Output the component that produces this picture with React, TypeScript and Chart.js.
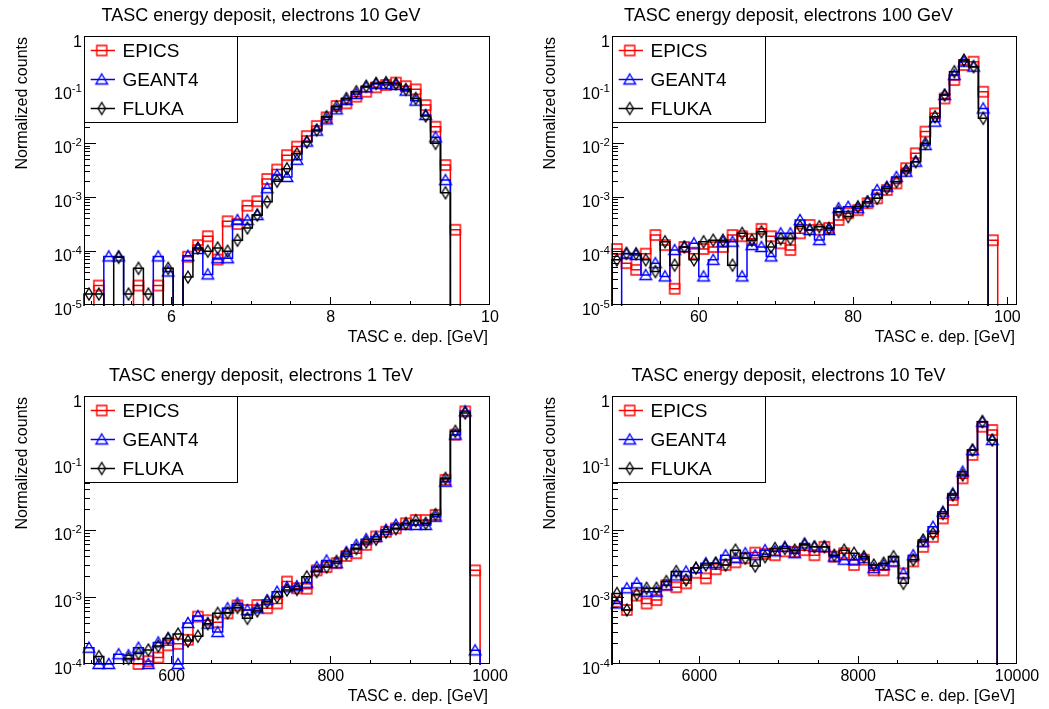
import React, { useEffect, useRef } from "react";
import { Chart, registerables } from "chart.js";

Chart.register(...registerables);

// ---------------- data ----------------
const seriesNames = ["EPICS", "GEANT4", "FLUKA"];
const yAxisTitle = "Normalized counts";
const xAxisTitle = "TASC e. dep. [GeV]";

// 10 GeV
const title10GeV = "TASC energy deposit, electrons 10 GeV";
const xRange10GeV = [4.9, 10];
const yRange10GeV = [1e-5, 1];
const xTickLabels10GeV = [6, 8, 10];
const xMinorStep10GeV = 0.5;
const epics10GeV = [0, 2.3e-5, 0, 0, 0, 2.3e-5, 0, 2.3e-5, 0, 0, 7.9e-5, 1.3e-4, 1.9e-4, 7e-5, 3.6e-4, 3.2e-4, 7.0e-4, 8.5e-4, 2.2e-3, 3.3e-3, 6.1e-3, 8.8e-3, 0.0138, 0.0212, 0.0308, 0.05, 0.056, 0.0745, 0.092, 0.111, 0.123, 0.136, 0.117, 0.102, 0.052, 0.0206, 0.004, 2.5e-4, 0, 0, 0];
const geant10GeV = [0, 0, 8e-5, 8e-5, 0, 0, 0, 8e-5, 4.2e-5, 0, 8.2e-5, 1.1e-4, 3.7e-5, 7.4e-5, 7.4e-5, 3.8e-4, 3.8e-4, 4.7e-4, 1.48e-3, 2.6e-3, 2.4e-3, 5.0e-3, 0.0109, 0.0174, 0.0282, 0.0433, 0.0646, 0.0835, 0.111, 0.128, 0.128, 0.123, 0.0963, 0.0628, 0.034, 0.0131, 0.0021, 0, 0, 0, 0];
const fluka10GeV = [1.6e-5, 1.6e-5, 0, 7.7e-5, 1.6e-5, 4.8e-5, 1.6e-5, 0, 4.8e-5, 0, 3.3e-5, 1.15e-4, 1.0e-4, 1.15e-4, 1.0e-4, 1.6e-4, 2.7e-4, 4.7e-4, 8.3e-4, 2.0e-3, 3.4e-3, 6.5e-3, 0.0107, 0.0179, 0.0316, 0.0486, 0.069, 0.092, 0.117, 0.132, 0.136, 0.13, 0.102, 0.069, 0.0326, 0.0101, 0.00122, 0, 0, 0, 0];

// 100 GeV
const title100GeV = "TASC energy deposit, electrons 100 GeV";
const xRange100GeV = [48.75, 101.25];
const yRange100GeV = [1e-5, 1];
const xTickLabels100GeV = [60, 80, 100];
const xMinorStep100GeV = 5;
const epics100GeV = [1.1e-4, 6e-5, 4.5e-5, 9e-5, 2.0e-4, 1.3e-4, 2.0e-5, 1.2e-4, 9e-5, 1.1e-4, 1.2e-4, 1.2e-4, 2.0e-4, 1.9e-4, 1.7e-4, 2.6e-4, 1.9e-4, 1.4e-4, 1.05e-4, 2.15e-4, 3.07e-4, 2.5e-4, 2.7e-4, 3.8e-4, 5.1e-4, 5.8e-4, 7.8e-4, 9.6e-4, 1.37e-3, 1.82e-3, 3.5e-3, 6.6e-3, 0.0167, 0.0365, 0.069, 0.152, 0.289, 0.333, 0.092, 1.6e-4, 0, 0];
const geant100GeV = [0, 9e-5, 8.5e-5, 3.6e-5, 6e-5, 3.4e-5, 1.05e-4, 1.2e-4, 1.4e-4, 3.4e-5, 6.9e-5, 1.5e-4, 1.5e-4, 3.4e-5, 1.3e-4, 1.2e-4, 8e-5, 2.15e-4, 2.15e-4, 3.8e-4, 2.48e-4, 1.61e-4, 2.48e-4, 6.3e-4, 6.7e-4, 6.3e-4, 8.3e-4, 1.37e-3, 1.58e-3, 2.4e-3, 3.0e-3, 4.6e-3, 9.4e-3, 0.0256, 0.08, 0.188, 0.333, 0.269, 0.045, 0, 0, 0];
const fluka100GeV = [6.9e-5, 9.1e-5, 9e-5, 6.9e-5, 4.2e-5, 1.5e-4, 5.5e-5, 1.2e-4, 6.9e-5, 1.5e-4, 1.6e-4, 1.6e-4, 5.5e-5, 2.15e-4, 1.6e-4, 2.3e-4, 1.2e-4, 1.7e-4, 1.7e-4, 2.9e-4, 2.5e-4, 2.86e-4, 2.66e-4, 5.4e-4, 4.4e-4, 6.7e-4, 8.3e-4, 9.6e-4, 1.48e-3, 1.96e-3, 3.2e-3, 4.6e-3, 0.0101, 0.0316, 0.08, 0.217, 0.358, 0.269, 0.0295, 0, 0, 0];

// 1 TeV
const title1TeV = "TASC energy deposit, electrons 1 TeV";
const xRange1TeV = [490, 1000];
const yRange1TeV = [1e-4, 1];
const xTickLabels1TeV = [600, 800, 1000];
const xMinorStep1TeV = 50;
const epics1TeV = [0, 0, 0, 0, 0, 1.0e-4, 1.1e-4, 1.25e-4, 1.9e-4, 2.0e-4, 2.3e-4, 5.1e-4, 4.5e-4, 4.2e-4, 5.7e-4, 7.5e-4, 6.4e-4, 7.6e-4, 6.8e-4, 8e-4, 1.7e-3, 1.35e-3, 1.33e-3, 2.5e-3, 2.8e-3, 3.2e-3, 4.1e-3, 4.5e-3, 6.0e-3, 8.0e-3, 9.4e-3, 0.0106, 0.0126, 0.0141, 0.0141, 0.0168, 0.056, 0.265, 0.59, 2.5e-3, 0];
const geant1TeV = [1.75e-4, 1.0e-4, 1.0e-4, 1.4e-4, 1.35e-4, 1.75e-4, 1.0e-4, 2.1e-4, 2.4e-4, 1.0e-4, 4.1e-4, 5.2e-4, 4.0e-4, 3.0e-4, 6.8e-4, 8e-4, 6.4e-4, 6.8e-4, 9e-4, 1.2e-3, 1.4e-3, 1.45e-3, 1.63e-3, 2.8e-3, 3.5e-3, 3.2e-3, 4.7e-3, 6.0e-3, 7.3e-3, 7.9e-3, 0.0101, 0.012, 0.0119, 0.0119, 0.0119, 0.0158, 0.0526, 0.265, 0.59, 1.6e-4, 0];
const fluka1TeV = [0, 1.29e-4, 8e-5, 9e-5, 1.21e-4, 1.44e-4, 1.62e-4, 1.85e-4, 2.4e-4, 2.8e-4, 2.2e-4, 2.6e-4, 4.0e-4, 5.7e-4, 5.8e-4, 7.0e-4, 4.8e-4, 6.2e-4, 8.5e-4, 1.0e-3, 1.27e-3, 1.3e-3, 2.0e-3, 2.4e-3, 2.8e-3, 3.4e-3, 4.4e-3, 5.3e-3, 6.6e-3, 7.3e-3, 9.3e-3, 0.0105, 0.0125, 0.0138, 0.0126, 0.017, 0.059, 0.297, 0.557, 0, 0];

// 10 TeV
const title10TeV = "TASC energy deposit, electrons 10 TeV";
const xRange10TeV = [4900, 10000];
const yRange10TeV = [1e-4, 1];
const xTickLabels10TeV = [6000, 8000, 10000];
const xMinorStep10TeV = 500;
const epics10TeV = [8.5e-4, 6.4e-4, 1.05e-3, 8.0e-4, 9.0e-4, 1.5e-3, 1.4e-3, 1.6e-3, 2.3e-3, 1.9e-3, 2.6e-3, 3.0e-3, 3.3e-3, 3.8e-3, 4.6e-3, 4.4e-3, 4.2e-3, 4.8e-3, 4.7e-3, 5.0e-3, 4.2e-3, 5.6e-3, 4.0e-3, 4.5e-3, 3.0e-3, 3.6e-3, 2.5e-3, 2.5e-3, 3.4e-3, 2.25e-3, 3.4e-3, 5.6e-3, 7.9e-3, 0.0149, 0.028, 0.059, 0.132, 0.348, 0.311, 0, 0];
const geant10TeV = [8e-4, 1.35e-3, 1.6e-3, 1.2e-3, 1.2e-3, 1.5e-3, 2.1e-3, 2.4e-3, 2.7e-3, 3.2e-3, 3.2e-3, 4.2e-3, 3.8e-3, 4.5e-3, 4.2e-3, 5.0e-3, 4.8e-3, 5.6e-3, 4.5e-3, 6.3e-3, 5.6e-3, 5.6e-3, 4.0e-3, 3.6e-3, 3.6e-3, 3.8e-3, 2.7e-3, 3.0e-3, 3.4e-3, 2.25e-3, 4.2e-3, 6.7e-3, 0.0112, 0.0188, 0.0352, 0.0743, 0.156, 0.414, 0.22, 0, 0];
const fluka10TeV = [1.13e-3, 6.4e-4, 1.1e-3, 1.35e-3, 1.35e-3, 1.7e-3, 2.4e-3, 1.8e-3, 2.7e-3, 3.0e-3, 3.2e-3, 3.0e-3, 5.0e-3, 3.8e-3, 2.9e-3, 4.0e-3, 5.3e-3, 5.3e-3, 5.0e-3, 6.0e-3, 5.6e-3, 5.6e-3, 4.2e-3, 5.0e-3, 4.5e-3, 4.0e-3, 3.0e-3, 3.2e-3, 4.0e-3, 1.6e-3, 3.6e-3, 7.1e-3, 8.9e-3, 0.0177, 0.0333, 0.0662, 0.156, 0.414, 0.22, 0, 0];

// ---------------- styles / layout ----------------
const FONT = "'Liberation Sans', Arial, Helvetica, sans-serif";
const COLORS = ["#ff0000", "#0000ff", "#000000"];
const MARKER_KINDS = ["square", "triangle", "diamond"];
const HIST_LW = 1.5;

type Spec = {
  title: string;
  xRange: number[];
  yRange: number[];
  xTickLabels: number[];
  xMinorStep: number;
  series: number[][];
  box: { left: number; top: number; width: number; height: number };
  pad: { left: number; top: number; right: number; bottom: number };
};

const panels: Spec[] = [
  {
    title: title10GeV, xRange: xRange10GeV, yRange: yRange10GeV, xTickLabels: xTickLabels10GeV, xMinorStep: xMinorStep10GeV,
    series: [epics10GeV, geant10GeV, fluka10GeV],
    box: { left: 0, top: 0, width: 524, height: 354 }, pad: { left: 84, top: 36, right: 34, bottom: 49 },
  },
  {
    title: title100GeV, xRange: xRange100GeV, yRange: yRange100GeV, xTickLabels: xTickLabels100GeV, xMinorStep: xMinorStep100GeV,
    series: [epics100GeV, geant100GeV, fluka100GeV],
    box: { left: 524, top: 0, width: 525, height: 354 }, pad: { left: 88, top: 36, right: 32, bottom: 49 },
  },
  {
    title: title1TeV, xRange: xRange1TeV, yRange: yRange1TeV, xTickLabels: xTickLabels1TeV, xMinorStep: xMinorStep1TeV,
    series: [epics1TeV, geant1TeV, fluka1TeV],
    box: { left: 0, top: 354, width: 524, height: 355 }, pad: { left: 84, top: 42, right: 34, bottom: 45 },
  },
  {
    title: title10TeV, xRange: xRange10TeV, yRange: yRange10TeV, xTickLabels: xTickLabels10TeV, xMinorStep: xMinorStep10TeV,
    series: [epics10TeV, geant10TeV, fluka10TeV],
    box: { left: 524, top: 354, width: 525, height: 355 }, pad: { left: 88, top: 42, right: 32, bottom: 45 },
  },
];

function makeMarker(kind: string, color: string) {
  const c = document.createElement("canvas");
  c.width = 16;
  c.height = 16;
  const g = c.getContext("2d") as CanvasRenderingContext2D;
  g.strokeStyle = color;
  g.lineWidth = 1.4;
  const cx = 8, cy = 8;
  g.beginPath();
  if (kind === "square") {
    g.rect(cx - 5, cy - 5, 10, 10);
  } else if (kind === "triangle") {
    g.moveTo(cx, cy - 5.5);
    g.lineTo(cx + 5.8, cy + 4.5);
    g.lineTo(cx - 5.8, cy + 4.5);
    g.closePath();
  } else {
    g.moveTo(cx, cy - 6);
    g.lineTo(cx + 3.6, cy);
    g.lineTo(cx, cy + 6);
    g.lineTo(cx - 3.6, cy);
    g.closePath();
  }
  g.stroke();
  return c;
}

function stepPoints(vals: number[], xMin: number, xMax: number, floor: number) {
  const w = (xMax - xMin) / vals.length;
  const pts: { x: number; y: number }[] = [{ x: xMin, y: floor }];
  vals.forEach((v, i) => {
    const y = v > 0 ? v : floor;
    pts.push({ x: xMin + i * w, y });
    pts.push({ x: xMin + (i + 1) * w, y });
  });
  pts.push({ x: xMin + vals.length * w, y: floor });
  return pts;
}

function centerPoints(vals: number[], xMin: number, xMax: number, yMin: number) {
  const w = (xMax - xMin) / vals.length;
  const pts: { x: number; y: number }[] = [];
  vals.forEach((v, i) => {
    if (v >= yMin * 0.98) pts.push({ x: xMin + (i + 0.5) * w, y: v });
  });
  return pts;
}

function Panel({ spec }: { spec: Spec }) {
  const ref = useRef<HTMLCanvasElement | null>(null);

  useEffect(() => {
    const canvas = ref.current;
    if (!canvas) return;
    const markers = COLORS.map((c, i) => makeMarker(MARKER_KINDS[i], c));
    const [xMin, xMax] = spec.xRange;
    const [yMin, yMax] = spec.yRange;
    const floor = yMin / 1000;

    const datasets: any[] = [];
    spec.series.forEach((vals, si) => {
      datasets.push({
        label: seriesNames[si] + " hist",
        data: stepPoints(vals, xMin, xMax, floor),
        borderColor: COLORS[si],
        borderWidth: HIST_LW,
        pointRadius: 0,
        tension: 0,
        fill: false,
        clip: 1,
        order: 6 - 2 * si,
      });
      datasets.push({
        label: seriesNames[si],
        data: centerPoints(vals, xMin, xMax, yMin),
        showLine: false,
        pointStyle: markers[si],
        pointRadius: 6,
        pointHoverRadius: 6,
        clip: false,
        order: 5 - 2 * si,
      });
    });

    const decor = {
      id: "rootDecor",
      afterDatasetsDraw(chart: any) {
        const ctx: CanvasRenderingContext2D = chart.ctx;
        const a = chart.chartArea;
        const xs = chart.scales.x;
        const ys = chart.scales.y;
        ctx.save();
        ctx.strokeStyle = "#000";
        ctx.fillStyle = "#000";
        ctx.lineWidth = 1;

        // frame
        ctx.strokeRect(a.left + 0.5, a.top + 0.5, a.right - a.left - 1, a.bottom - a.top - 1);

        // ticks
        ctx.beginPath();
        const eMin = Math.round(Math.log10(yMin));
        const eMax = Math.round(Math.log10(yMax));
        const snapY = (p: number) => Math.min(a.bottom - 0.5, Math.max(a.top + 0.5, Math.floor(p) + 0.5));
        for (let e = eMin; e <= eMax; e++) {
          const py = snapY(ys.getPixelForValue(Math.pow(10, e)));
          ctx.moveTo(a.left, py);
          ctx.lineTo(a.left + 12, py);
          if (e < eMax) {
            for (let m = 2; m <= 9; m++) {
              const p = snapY(ys.getPixelForValue(m * Math.pow(10, e)));
              ctx.moveTo(a.left, p);
              ctx.lineTo(a.left + 6, p);
            }
          }
        }
        const kStart = Math.ceil(xMin / spec.xMinorStep - 1e-9);
        const kEnd = Math.floor(xMax / spec.xMinorStep + 1e-9);
        for (let k = kStart; k <= kEnd; k++) {
          const v = k * spec.xMinorStep;
          const isMajor = spec.xTickLabels.some((t) => Math.abs(t - v) < spec.xMinorStep * 1e-6);
          const px = Math.min(a.right - 0.5, Math.floor(xs.getPixelForValue(v)) + 0.5);
          ctx.moveTo(px, a.bottom);
          ctx.lineTo(px, a.bottom - (isMajor ? 8 : 4));
        }
        ctx.stroke();

        // y tick labels
        const baseFont = "16px " + FONT;
        const expFont = "11.5px " + FONT;
        ctx.textAlign = "right";
        ctx.textBaseline = "alphabetic";
        for (let e = eMin; e <= eMax; e++) {
          const py = ys.getPixelForValue(Math.pow(10, e));
          const xr = a.left - 2;
          if (e === 0) {
            ctx.font = baseFont;
            ctx.fillText("1", xr, py + 10.5);
          } else {
            const es = String(e);
            ctx.font = expFont;
            const ew = ctx.measureText(es).width;
            ctx.fillText(es, xr, py + 2.5);
            ctx.font = baseFont;
            ctx.fillText("10", xr - ew, py + 9.5);
          }
        }

        // x tick labels
        ctx.font = baseFont;
        ctx.textAlign = "center";
        spec.xTickLabels.forEach((t) => {
          ctx.fillText(String(t), xs.getPixelForValue(t), a.bottom + 17);
        });

        // x axis title
        ctx.textAlign = "right";
        ctx.fillText(xAxisTitle, a.right - 2, a.bottom + 36.5);

        // y axis title
        ctx.save();
        ctx.translate(a.left - 57.5, a.top + 1);
        ctx.rotate(-Math.PI / 2);
        ctx.textAlign = "right";
        ctx.fillText(yAxisTitle, 0, 0);
        ctx.restore();

        // title
        ctx.font = "18px " + FONT;
        ctx.textAlign = "center";
        ctx.fillText(spec.title, (a.left + a.right) / 2 - 26, a.top - 15.3);

        // legend
        const lw = 153, lh = 86;
        ctx.fillStyle = "#fff";
        ctx.fillRect(a.left, a.top, lw, lh);
        ctx.strokeStyle = "#000";
        ctx.lineWidth = 1;
        ctx.strokeRect(a.left + 0.5, a.top + 0.5, lw, lh);
        ctx.font = "19px " + FONT;
        ctx.textAlign = "left";
        seriesNames.forEach((name, i) => {
          const cy = a.top + 14.5 + 29 * i;
          ctx.strokeStyle = COLORS[i];
          ctx.lineWidth = HIST_LW;
          ctx.beginPath();
          ctx.moveTo(a.left + 6.7, cy);
          ctx.lineTo(a.left + 31, cy);
          ctx.stroke();
          ctx.drawImage(markers[i], a.left + 17.7 - 8, cy - 8);
          ctx.fillStyle = "#000";
          ctx.fillText(name, a.left + 38.5, cy + 6.8);
        });
        ctx.restore();
      },
    };

    const chart = new Chart(canvas, {
      type: "line",
      data: { datasets },
      options: {
        animation: false,
        responsive: false,
        devicePixelRatio: 1,
        events: [],
        layout: { padding: spec.pad },
        plugins: { legend: { display: false }, tooltip: { enabled: false }, title: { display: false } },
        scales: {
          x: { type: "linear", min: xMin, max: xMax, display: false },
          y: { type: "logarithmic", min: yMin, max: yMax, display: false },
        },
      },
      plugins: [decor],
    } as any);
    return () => chart.destroy();
  }, [spec]);

  return (
    <canvas
      ref={ref}
      width={spec.box.width}
      height={spec.box.height}
      style={{
        position: "absolute",
        left: spec.box.left,
        top: spec.box.top,
        width: spec.box.width,
        height: spec.box.height,
      }}
    />
  );
}

export default function App() {
  return (
    <div style={{ position: "absolute", left: 0, top: 0, width: 1049, height: 709, background: "#fff", overflow: "hidden" }}>
      {panels.map((p, i) => (
        <Panel key={i} spec={p} />
      ))}
    </div>
  );
}
